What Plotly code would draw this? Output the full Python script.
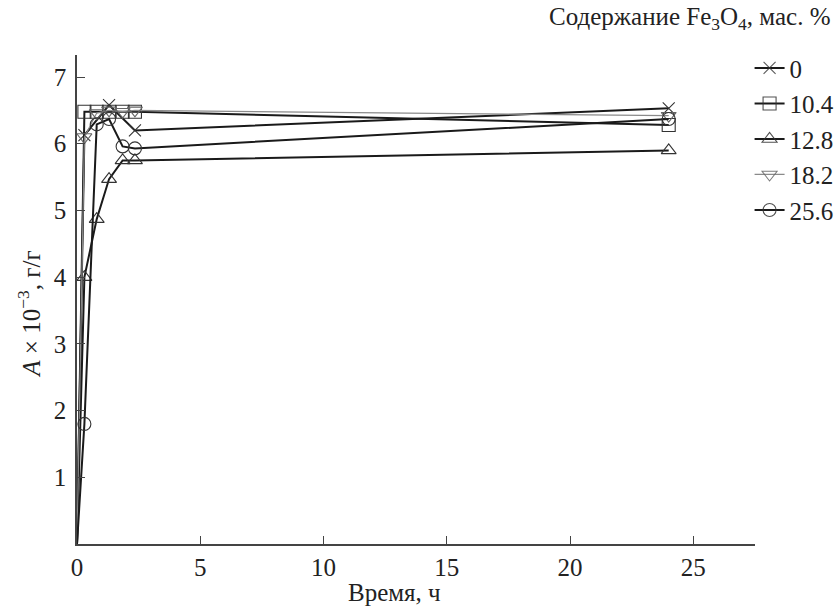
import plotly.graph_objects as go

# ---- data ----
labels = ["0", "10.4", "12.8", "18.2", "25.6"]
t_0 = [0, 0.3, 1.3, 2.35, 24]
a_0 = [0.0, 6.13, 6.58, 6.2, 6.53]
t_104 = [0, 0.3, 0.8, 1.3, 1.85, 2.35, 24]
a_104 = [0.0, 6.48, 6.48, 6.48, 6.48, 6.48, 6.28]
t_128 = [0, 0.3, 0.8, 1.3, 1.85, 2.35, 24]
a_128 = [0.0, 4.0, 4.87, 5.47, 5.75, 5.75, 5.9]
t_182 = [0, 0.3, 0.8, 1.3, 1.85, 2.35, 24]
a_182 = [0.0, 6.1, 6.46, 6.5, 6.48, 6.5, 6.42]
t_256 = [0, 0.3, 0.8, 1.3, 1.85, 2.35, 24]
a_256 = [0.0, 1.8, 6.29, 6.37, 5.96, 5.93, 6.37]

x_ticks = [0, 5, 10, 15, 20, 25]
y_ticks = [1, 2, 3, 4, 5, 6, 7]

series = [
    (labels[0], t_0, a_0, "x-thin", "#1a1a1a", 2.0, "#333333"),
    (labels[1], t_104, a_104, "square-open", "#1a1a1a", 2.0, "#333333"),
    (labels[2], t_128, a_128, "triangle-up-open", "#1a1a1a", 2.0, "#333333"),
    (labels[3], t_182, a_182, "triangle-down-open", "#8a8a8a", 1.2, "#666666"),
    (labels[4], t_256, a_256, "circle-open", "#1a1a1a", 2.0, "#333333"),
]

FONT = "Liberation Serif, Times New Roman, serif"
FS = 25

fig = go.Figure()
for i, (name, t, a, sym, col, lw, mcol) in enumerate(series):
    size = 13 if sym != "x-thin" else 12
    opac = [0] + [1] * (len(t) - 1)   # no marker drawn at the origin
    fig.add_trace(go.Scatter(
        x=t, y=a, name=name, mode="lines+markers",
        line=dict(color=col, width=lw),
        marker=dict(symbol=sym, size=size, color=mcol, opacity=opac,
                    line=dict(color=mcol, width=1.1)),
        legendgroup="g%d" % i,
    ))

fig.update_layout(
    width=835, height=610,
    margin=dict(l=77, r=80, t=55, b=66, autoexpand=False),
    paper_bgcolor="white", plot_bgcolor="white",
    font=dict(family=FONT, size=FS, color="#222222"),
    showlegend=True,
    legend=dict(x=0.992, y=1.02, xanchor="left", yanchor="top",
                traceorder="grouped", tracegroupgap=0,
                bgcolor="rgba(0,0,0,0)", font=dict(size=FS)),
    xaxis=dict(range=[0, 27.5], tickvals=x_ticks, ticks="inside", ticklen=8,
               tickcolor="#444", showline=True, linecolor="#444", linewidth=1.5,
               showgrid=False, zeroline=False, ticklabelstandoff=0),
    yaxis=dict(range=[0, 7.33], tickvals=y_ticks, ticks="inside", ticklen=8,
               tickcolor="#444", showline=True, linecolor="#444", linewidth=1.5,
               showgrid=False, zeroline=False, ticklabelstandoff=4),
    annotations=[
        dict(text="Содержание Fe<sub>3</sub>O<sub>4</sub>, мас. %",
             xref="paper", yref="paper", x=1.113, y=1.075,
             xanchor="right", yanchor="middle", showarrow=False,
             font=dict(size=FS)),
        dict(text="Время, ч", xref="paper", yref="paper", x=0.469, y=-0.1,
             xanchor="center", yanchor="middle", showarrow=False,
             font=dict(size=FS)),
        dict(text="<i>A</i> × 10<sup>−3</sup>, г/г", xref="paper", yref="paper",
             x=-0.07, y=0.47, xanchor="center", yanchor="middle",
             textangle=-90, showarrow=False, font=dict(size=FS)),
    ],
)

fig.write_html("out.html")
